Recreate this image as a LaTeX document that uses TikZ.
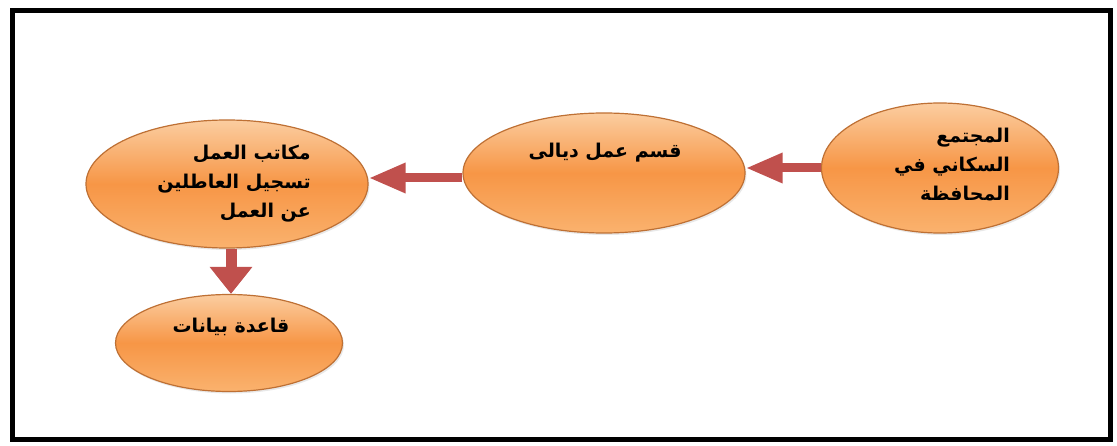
\documentclass[tikz,border=0pt]{standalone}
\usepackage{fontspec}
\usetikzlibrary{shapes.geometric,arrows.meta,shadows}
\TeXXeTstate=1
\newfontfamily\arabicfont[Script=Arabic]{DejaVu Sans}
\definecolor{orcore}{RGB}{247,150,70}
\definecolor{ortop}{RGB}{251,205,160}
\definecolor{orbot}{RGB}{250,178,110}
\definecolor{oredge}{RGB}{190,112,52}
\definecolor{arrred}{RGB}{192,80,77}
\tikzset{
  bubble/.style={ellipse, inner sep=0pt, draw=oredge, line width=1.2pt,
    top color=ortop, bottom color=orbot, middle color=orcore,
    drop shadow={opacity=0.18, shadow xshift=1.5pt, shadow yshift=-2pt}},
  lbl/.style={inner sep=0pt, align=right, font=\arabicfont\bfseries\fontsize{19}{29}\selectfont},
  flowH/.style={draw=arrred, line width=9pt, -{Triangle[width=28pt,length=37pt]}},
  flowV/.style={draw=arrred, line width=11pt, -{Triangle[width=41pt,length=27pt]}},
  frame/.style={draw=black, line width=5pt}
}
\begin{document}
\begin{tikzpicture}[x=1pt,y=1pt]
\useasboundingbox (0,0) rectangle (1117,445);
\fill[white] (0,0) rectangle (1117,445);
\draw[frame] (12,6) rectangle (1110,434);
% ellipses
\node[bubble, minimum width=282pt, minimum height=128pt] (e1) at (227,261) {};
\node[bubble, minimum width=282pt, minimum height=120pt] (e2) at (604,272) {};
\node[bubble, minimum width=237pt, minimum height=130pt] (e3) at (940,277) {};
\node[bubble, minimum width=227pt, minimum height=97pt] (e4) at (229,102) {};
% labels
\node[lbl] (t1) at (234,261) {\beginR مكاتب العمل\endR\\ \beginR تسجيل العاطلين\endR\\ \beginR عن العمل\endR};
\node[lbl] (t2) at (605,292) {\beginR قسم عمل ديالى\endR};
\node[lbl] (t3) at (952,280) {\beginR المجتمع\endR\\ \beginR السكاني في\endR\\ \beginR المحافظة\endR};
\node[lbl] (t4) at (231,118) {\beginR قاعدة بيانات\endR};
% arrows
\draw[flowH] (e3.west) -- (e3.west -| e2.east);
\draw[flowH] ([yshift=-5pt]e2.west) -- ([yshift=-5pt]e2.west -| e1.east);
\draw[flowV] ([xshift=4pt]e1.south) -- ([xshift=4pt]e1.south |- e4.north);
\end{tikzpicture}
\end{document}
